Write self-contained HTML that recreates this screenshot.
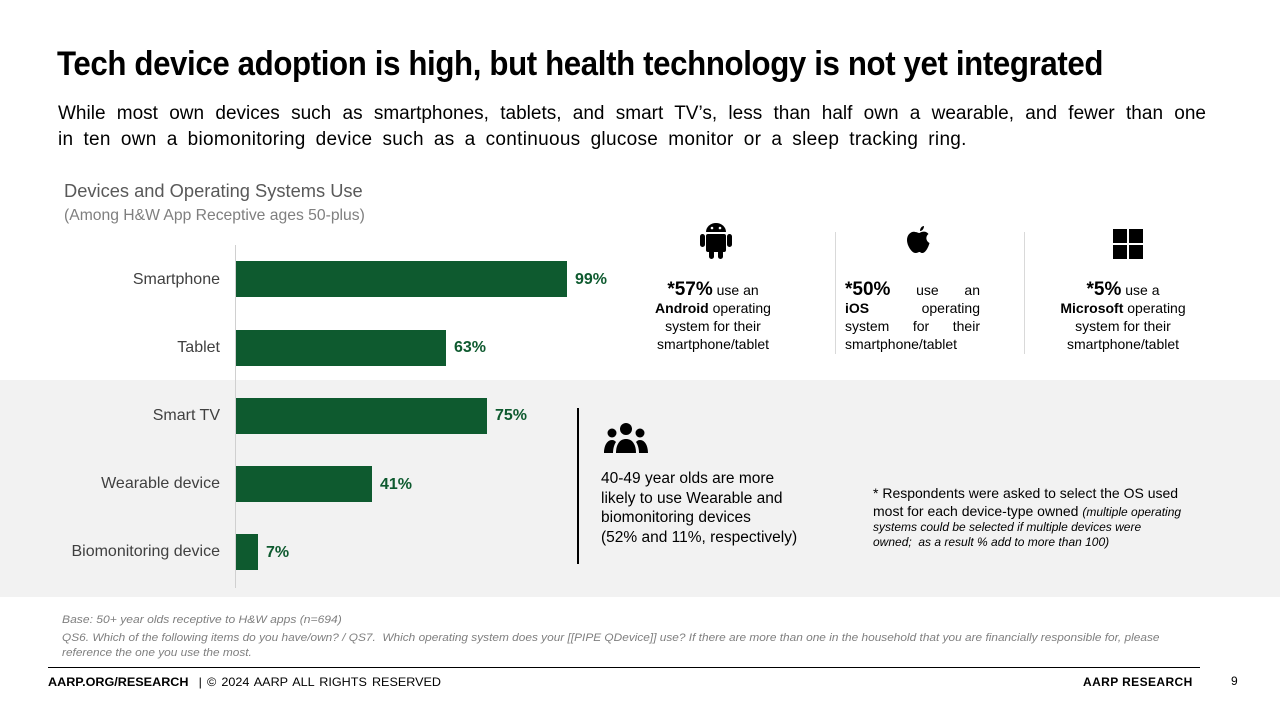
<!DOCTYPE html>
<html><head><meta charset="utf-8"><style>
body{margin:0;width:1280px;height:720px;position:relative;background:#fff;font-family:"Liberation Sans",sans-serif;overflow:hidden;color:#000}
.a{position:absolute;white-space:nowrap}
.bar{position:absolute;background:#0e5a2f;left:236px;height:36px}
.lab{position:absolute;right:1060px;font-size:16px;color:#404040;text-align:right}
.val{position:absolute;font-size:16px;font-weight:bold;color:#0e5a2f}
.os{position:absolute;font-size:14px;line-height:18px;text-align:center;width:150px;color:#000}
</style></head><body>
<div class="a" style="left:0;top:380px;width:1280px;height:217px;background:#f2f2f2"></div>
<div class="a" style="left:57px;top:45px;font-size:34px;font-weight:bold;letter-spacing:-0.4px;transform:scaleX(0.918);transform-origin:left">Tech device adoption is high, but health technology is not yet integrated</div>
<div class="a" style="left:58px;top:101px;font-size:19px;line-height:26px;white-space:normal;width:1148px;text-align:justify;text-align-last:justify">While most own devices such as smartphones, tablets, and smart TV’s, less than half own a wearable, and fewer than one</div>
<div class="a" style="left:58px;top:127px;font-size:19px;line-height:26px;word-spacing:4.5px;letter-spacing:0.3px">in ten own a biomonitoring device such as a continuous glucose monitor or a sleep tracking ring.</div>
<div class="a" style="left:64px;top:180px;font-size:18.3px;color:#595959">Devices and Operating Systems Use</div>
<div class="a" style="left:64px;top:207px;font-size:15.7px;color:#7f7f7f">(Among H&amp;W App Receptive ages 50-plus)</div>
<div class="a" style="left:235px;top:245px;width:1px;height:343px;background:#d0d0d0"></div>
<div class="bar" style="top:261px;width:331px"></div><div class="lab" style="top:271px">Smartphone</div><div class="val" style="left:575px;top:271px">99%</div>
<div class="bar" style="top:330px;width:210px"></div><div class="lab" style="top:339px">Tablet</div><div class="val" style="left:454px;top:339px">63%</div>
<div class="bar" style="top:398px;width:251px"></div><div class="lab" style="top:407px">Smart TV</div><div class="val" style="left:495px;top:407px">75%</div>
<div class="bar" style="top:466px;width:136px"></div><div class="lab" style="top:475px">Wearable device</div><div class="val" style="left:380px;top:476px">41%</div>
<div class="bar" style="top:534px;width:22px"></div><div class="lab" style="top:543px">Biomonitoring device</div><div class="val" style="left:266px;top:544px">7%</div>
<svg class="a" style="left:700px;top:220px" width="32" height="40" viewBox="0 0 32 40"><rect x="6" y="14" width="20" height="18" rx="2"/><path d="M6 12a10 9 0 0 1 20 0z"/><rect x="0" y="14" width="5" height="13" rx="2.5"/><rect x="27" y="14" width="5" height="13" rx="2.5"/><rect x="9" y="30" width="5" height="9" rx="2.5"/><rect x="18" y="30" width="5" height="9" rx="2.5"/><circle cx="12" cy="8" r="1.3" fill="#fff"/><circle cx="20" cy="8" r="1.3" fill="#fff"/></svg>
<svg class="a" style="left:906px;top:226px" width="27" height="28" viewBox="0 0 27 28"><path d="M13.5 7c3-2 7-2 9 1-3 2-3 7 1 9-1 4-4 10-7 10-2 0-2-1-3-1s-2 1-4 1C6 27 1 20 1 14 1 8 6 5 9 6c2 0 3 1 4.5 1z"/><path d="M14 5c0-3 2-5 4-5 0 3-2 5-4 5z"/></svg>
<svg class="a" style="left:1113px;top:229px" width="30" height="30"><rect x="0" y="0" width="14" height="14"/><rect x="16" y="0" width="14" height="14"/><rect x="0" y="16" width="14" height="14"/><rect x="16" y="16" width="14" height="14"/></svg>
<div class="a" style="left:835px;top:232px;width:1px;height:122px;background:#d9d9d9"></div>
<div class="a" style="left:1024px;top:232px;width:1px;height:122px;background:#d9d9d9"></div>
<div class="os" style="left:638px;top:281px"><b style="font-size:19px">*57%</b> use an<br><b>Android</b> operating<br>system for their<br>smartphone/tablet</div>
<div class="os" style="left:845px;top:281px;width:135px;text-align:justify;text-align-last:justify"><b style="font-size:19px">*50%</b> use an<br><b>iOS</b> operating<br>system for their<br>smartphone/tablet</div>
<div class="os" style="left:1048px;top:281px"><b style="font-size:19px">*5%</b> use a<br><b>Microsoft</b> operating<br>system for their<br>smartphone/tablet</div>
<div class="a" style="left:577px;top:408px;width:2px;height:156px;background:#000"></div>
<svg class="a" style="left:604px;top:422px" width="44" height="32" viewBox="0 0 44 32"><circle cx="22" cy="7" r="6"/><circle cx="8" cy="11" r="4.5"/><circle cx="36" cy="11" r="4.5"/><path d="M12 31c0-9 4-14 10-14s10 5 10 14z"/><path d="M0 31c0-7 3-13 8-13 2 0 3 1 4 2-2 3-3 7-3 11z"/><path d="M44 31c0-7-3-13-8-13-2 0-3 1-4 2 2 3 3 7 3 11z"/></svg>
<div class="a" style="left:601px;top:469px;font-size:15.5px;line-height:19.5px;color:#000">40-49 year olds are more<br>likely to use Wearable and<br>biomonitoring devices<br>(52% and 11%, respectively)</div>
<div class="a" style="left:873px;top:484px;font-size:14px;line-height:18px">* Respondents were asked to select the OS used<br>most for each device-type owned <i style="font-size:12px">(multiple operating</i></div>
<div class="a" style="left:873px;top:520px;font-size:12px;line-height:15px;font-style:italic">systems could be selected if multiple devices were<br>owned;&nbsp; as a result % add to more than 100)</div>
<div class="a" style="left:62px;top:614px;font-size:11px;font-style:italic;color:#7f7f7f;transform:scaleX(1.1);transform-origin:left">Base: 50+ year olds receptive to H&amp;W apps (n=694)</div>
<div class="a" style="left:62px;top:631px;font-size:11px;line-height:15px;font-style:italic;color:#7f7f7f;transform:scaleX(1.078);transform-origin:left">QS6. Which of the following items do you have/own? / QS7.&nbsp; Which operating system does your [[PIPE QDevice]] use? If there are more than one in the household that you are financially responsible for, please<br>reference the one you use the most.</div>
<div class="a" style="left:48px;top:667px;width:1152px;height:1px;background:#000"></div>
<div class="a" style="left:48px;top:675px;font-size:12px;transform:scaleX(1.05);transform-origin:left;word-spacing:1.5px"><b>AARP.ORG/RESEARCH</b>&nbsp; | © 2024 AARP ALL RIGHTS RESERVED</div>
<div class="a" style="left:1083px;top:675px;font-size:12px;font-weight:bold;letter-spacing:0.4px">AARP RESEARCH</div>
<div class="a" style="left:1231px;top:674px;font-size:12px">9</div>
</body></html>
